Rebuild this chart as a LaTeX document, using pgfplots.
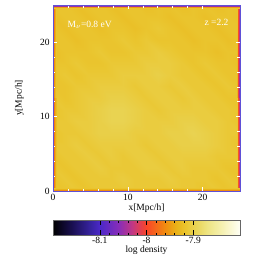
\documentclass[border=0pt]{standalone}
\usepackage{pgfplots}
\pgfplotsset{compat=1.18}
\usepackage{fontspec}
\setmainfont{Liberation Serif}
\definecolor{frameblue}{RGB}{95,80,215}
\begin{document}
\fontsize{9.5}{11}\selectfont
\begin{tikzpicture}
\begin{axis}[
 at={(0,0)}, anchor=south west,
 scale only axis, width=187pt, height=186pt,
 xmin=0, xmax=25, ymin=0, ymax=25,
 enlargelimits=false,
 axis on top,
 xtick={0,10,20}, ytick={0,10,20},
 minor x tick num=4, minor y tick num=4,
 tick align=inside,
 tick style={white, line width=0.5pt},
 major tick length=4pt, minor tick length=2.5pt,
 axis line style={draw=frameblue, line width=0.5pt},
 xlabel={x[Mpc/h]}, ylabel={y[Mpc/h]},
 ylabel style={at={(axis description cs:-0.18,0.5)}, anchor=center},
 xlabel style={at={(axis description cs:0.5,-0.09)}, anchor=center},
 /pgf/number format/assume math mode=true,
 colormap={dens}{rgb255(0)=(0,0,0) rgb255(40)=(25,15,80) rgb255(80)=(55,35,160) rgb255(100)=(75,40,200) rgb255(140)=(135,45,185) rgb255(170)=(195,55,130) rgb255(200)=(250,70,40) rgb255(240)=(240,140,15) rgb255(265)=(233,180,25) rgb255(285)=(234,198,48) rgb255(305)=(233,212,85) rgb255(330)=(238,228,130) rgb255(360)=(245,240,175) rgb255(400)=(255,255,245)},
 point meta min=-8.2, point meta max=-7.8,
 colorbar horizontal,
 colorbar style={
   at={(0,-0.156)}, anchor=north west,
   scale only axis, width=187pt, height=15pt,
   xtick={-8.1,-8,-7.9}, xticklabels={-8.1,-8,-7.9},
   minor x tick num=4,
   xtick pos=both, xticklabel pos=lower,
   tick align=inside,
   tick style={black, line width=0.4pt},
   major tick length=5pt, minor tick length=2.5pt,
   axis line style={draw=black!60, line width=0.6pt},
   xlabel={log density},
   xlabel style={at={(axis description cs:0.5,-1.0)}, anchor=center},
   xticklabel style={yshift=1pt},
 },
]
\addplot[surf, shader=interp, mesh/cols=17, point meta=explicit] coordinates {
(0,0)[-7.912] (1.5625,0)[-7.917] (3.125,0)[-7.912] (4.6875,0)[-7.917] (6.25,0)[-7.912] (7.8125,0)[-7.912] (9.375,0)[-7.912] (10.9375,0)[-7.912] (12.5,0)[-7.912] (14.0625,0)[-7.912] (15.625,0)[-7.912] (17.1875,0)[-7.912] (18.75,0)[-7.912] (20.3125,0)[-7.917] (21.875,0)[-7.912] (23.4375,0)[-7.917] (25,0)[-7.912]

(0,1.5625)[-7.917] (1.5625,1.5625)[-7.912] (3.125,1.5625)[-7.917] (4.6875,1.5625)[-7.912] (6.25,1.5625)[-7.912] (7.8125,1.5625)[-7.912] (9.375,1.5625)[-7.907] (10.9375,1.5625)[-7.912] (12.5,1.5625)[-7.912] (14.0625,1.5625)[-7.912] (15.625,1.5625)[-7.907] (17.1875,1.5625)[-7.912] (18.75,1.5625)[-7.912] (20.3125,1.5625)[-7.912] (21.875,1.5625)[-7.917] (23.4375,1.5625)[-7.912] (25,1.5625)[-7.917]

(0,3.125)[-7.912] (1.5625,3.125)[-7.917] (3.125,3.125)[-7.912] (4.6875,3.125)[-7.912] (6.25,3.125)[-7.907] (7.8125,3.125)[-7.912] (9.375,3.125)[-7.912] (10.9375,3.125)[-7.912] (12.5,3.125)[-7.907] (14.0625,3.125)[-7.907] (15.625,3.125)[-7.912] (17.1875,3.125)[-7.907] (18.75,3.125)[-7.912] (20.3125,3.125)[-7.912] (21.875,3.125)[-7.912] (23.4375,3.125)[-7.917] (25,3.125)[-7.917]

(0,4.6875)[-7.917] (1.5625,4.6875)[-7.912] (3.125,4.6875)[-7.912] (4.6875,4.6875)[-7.907] (6.25,4.6875)[-7.912] (7.8125,4.6875)[-7.907] (9.375,4.6875)[-7.912] (10.9375,4.6875)[-7.907] (12.5,4.6875)[-7.907] (14.0625,4.6875)[-7.912] (15.625,4.6875)[-7.907] (17.1875,4.6875)[-7.907] (18.75,4.6875)[-7.907] (20.3125,4.6875)[-7.907] (21.875,4.6875)[-7.912] (23.4375,4.6875)[-7.912] (25,4.6875)[-7.912]

(0,6.25)[-7.912] (1.5625,6.25)[-7.912] (3.125,6.25)[-7.907] (4.6875,6.25)[-7.912] (6.25,6.25)[-7.907] (7.8125,6.25)[-7.907] (9.375,6.25)[-7.907] (10.9375,6.25)[-7.907] (12.5,6.25)[-7.912] (14.0625,6.25)[-7.907] (15.625,6.25)[-7.907] (17.1875,6.25)[-7.902] (18.75,6.25)[-7.902] (20.3125,6.25)[-7.902] (21.875,6.25)[-7.907] (23.4375,6.25)[-7.912] (25,6.25)[-7.917]

(0,7.8125)[-7.917] (1.5625,7.8125)[-7.912] (3.125,7.8125)[-7.912] (4.6875,7.8125)[-7.907] (6.25,7.8125)[-7.902] (7.8125,7.8125)[-7.902] (9.375,7.8125)[-7.902] (10.9375,7.8125)[-7.907] (12.5,7.8125)[-7.907] (14.0625,7.8125)[-7.907] (15.625,7.8125)[-7.902] (17.1875,7.8125)[-7.902] (18.75,7.8125)[-7.897] (20.3125,7.8125)[-7.902] (21.875,7.8125)[-7.907] (23.4375,7.8125)[-7.912] (25,7.8125)[-7.912]

(0,9.375)[-7.912] (1.5625,9.375)[-7.912] (3.125,9.375)[-7.907] (4.6875,9.375)[-7.907] (6.25,9.375)[-7.902] (7.8125,9.375)[-7.897] (9.375,9.375)[-7.897] (10.9375,9.375)[-7.902] (12.5,9.375)[-7.907] (14.0625,9.375)[-7.907] (15.625,9.375)[-7.907] (17.1875,9.375)[-7.902] (18.75,9.375)[-7.902] (20.3125,9.375)[-7.907] (21.875,9.375)[-7.907] (23.4375,9.375)[-7.912] (25,9.375)[-7.917]

(0,10.9375)[-7.917] (1.5625,10.9375)[-7.912] (3.125,10.9375)[-7.912] (4.6875,10.9375)[-7.907] (6.25,10.9375)[-7.902] (7.8125,10.9375)[-7.897] (9.375,10.9375)[-7.897] (10.9375,10.9375)[-7.902] (12.5,10.9375)[-7.907] (14.0625,10.9375)[-7.912] (15.625,10.9375)[-7.907] (17.1875,10.9375)[-7.907] (18.75,10.9375)[-7.907] (20.3125,10.9375)[-7.907] (21.875,10.9375)[-7.912] (23.4375,10.9375)[-7.912] (25,10.9375)[-7.917]

(0,12.5)[-7.912] (1.5625,12.5)[-7.917] (3.125,12.5)[-7.912] (4.6875,12.5)[-7.907] (6.25,12.5)[-7.907] (7.8125,12.5)[-7.902] (9.375,12.5)[-7.902] (10.9375,12.5)[-7.907] (12.5,12.5)[-7.912] (14.0625,12.5)[-7.907] (15.625,12.5)[-7.907] (17.1875,12.5)[-7.912] (18.75,12.5)[-7.907] (20.3125,12.5)[-7.912] (21.875,12.5)[-7.912] (23.4375,12.5)[-7.917] (25,12.5)[-7.917]

(0,14.0625)[-7.917] (1.5625,14.0625)[-7.917] (3.125,14.0625)[-7.912] (4.6875,14.0625)[-7.912] (6.25,14.0625)[-7.907] (7.8125,14.0625)[-7.907] (9.375,14.0625)[-7.907] (10.9375,14.0625)[-7.912] (12.5,14.0625)[-7.907] (14.0625,14.0625)[-7.907] (15.625,14.0625)[-7.912] (17.1875,14.0625)[-7.907] (18.75,14.0625)[-7.912] (20.3125,14.0625)[-7.912] (21.875,14.0625)[-7.917] (23.4375,14.0625)[-7.912] (25,14.0625)[-7.917]

(0,15.625)[-7.917] (1.5625,15.625)[-7.912] (3.125,15.625)[-7.917] (4.6875,15.625)[-7.912] (6.25,15.625)[-7.912] (7.8125,15.625)[-7.912] (9.375,15.625)[-7.907] (10.9375,15.625)[-7.907] (12.5,15.625)[-7.907] (14.0625,15.625)[-7.902] (15.625,15.625)[-7.907] (17.1875,15.625)[-7.912] (18.75,15.625)[-7.912] (20.3125,15.625)[-7.917] (21.875,15.625)[-7.912] (23.4375,15.625)[-7.917] (25,15.625)[-7.917]

(0,17.1875)[-7.917] (1.5625,17.1875)[-7.917] (3.125,17.1875)[-7.912] (4.6875,17.1875)[-7.917] (6.25,17.1875)[-7.917] (7.8125,17.1875)[-7.912] (9.375,17.1875)[-7.912] (10.9375,17.1875)[-7.912] (12.5,17.1875)[-7.907] (14.0625,17.1875)[-7.907] (15.625,17.1875)[-7.907] (17.1875,17.1875)[-7.912] (18.75,17.1875)[-7.917] (20.3125,17.1875)[-7.912] (21.875,17.1875)[-7.917] (23.4375,17.1875)[-7.917] (25,17.1875)[-7.922]

(0,18.75)[-7.922] (1.5625,18.75)[-7.917] (3.125,18.75)[-7.917] (4.6875,18.75)[-7.917] (6.25,18.75)[-7.912] (7.8125,18.75)[-7.917] (9.375,18.75)[-7.917] (10.9375,18.75)[-7.912] (12.5,18.75)[-7.912] (14.0625,18.75)[-7.907] (15.625,18.75)[-7.912] (17.1875,18.75)[-7.917] (18.75,18.75)[-7.917] (20.3125,18.75)[-7.917] (21.875,18.75)[-7.922] (23.4375,18.75)[-7.917] (25,18.75)[-7.917]

(0,20.3125)[-7.917] (1.5625,20.3125)[-7.917] (3.125,20.3125)[-7.922] (4.6875,20.3125)[-7.917] (6.25,20.3125)[-7.917] (7.8125,20.3125)[-7.917] (9.375,20.3125)[-7.912] (10.9375,20.3125)[-7.917] (12.5,20.3125)[-7.912] (14.0625,20.3125)[-7.917] (15.625,20.3125)[-7.917] (17.1875,20.3125)[-7.917] (18.75,20.3125)[-7.922] (20.3125,20.3125)[-7.917] (21.875,20.3125)[-7.917] (23.4375,20.3125)[-7.922] (25,20.3125)[-7.917]

(0,21.875)[-7.917] (1.5625,21.875)[-7.922] (3.125,21.875)[-7.917] (4.6875,21.875)[-7.917] (6.25,21.875)[-7.922] (7.8125,21.875)[-7.917] (9.375,21.875)[-7.917] (10.9375,21.875)[-7.922] (12.5,21.875)[-7.917] (14.0625,21.875)[-7.912] (15.625,21.875)[-7.917] (17.1875,21.875)[-7.922] (18.75,21.875)[-7.917] (20.3125,21.875)[-7.917] (21.875,21.875)[-7.922] (23.4375,21.875)[-7.917] (25,21.875)[-7.917]

(0,23.4375)[-7.922] (1.5625,23.4375)[-7.917] (3.125,23.4375)[-7.917] (4.6875,23.4375)[-7.922] (6.25,23.4375)[-7.917] (7.8125,23.4375)[-7.917] (9.375,23.4375)[-7.922] (10.9375,23.4375)[-7.917] (12.5,23.4375)[-7.917] (14.0625,23.4375)[-7.917] (15.625,23.4375)[-7.922] (17.1875,23.4375)[-7.917] (18.75,23.4375)[-7.917] (20.3125,23.4375)[-7.922] (21.875,23.4375)[-7.917] (23.4375,23.4375)[-7.917] (25,23.4375)[-7.922]

(0,25)[-7.917] (1.5625,25)[-7.917] (3.125,25)[-7.922] (4.6875,25)[-7.917] (6.25,25)[-7.917] (7.8125,25)[-7.922] (9.375,25)[-7.917] (10.9375,25)[-7.917] (12.5,25)[-7.922] (14.0625,25)[-7.917] (15.625,25)[-7.917] (17.1875,25)[-7.922] (18.75,25)[-7.917] (20.3125,25)[-7.917] (21.875,25)[-7.922] (23.4375,25)[-7.917] (25,25)[-7.917]
};
% left edge
\addplot[surf, shader=interp, mesh/cols=5, point meta=explicit] coordinates {
(0,0)[-8.12] (0.1,0)[-8.03] (0.2,0)[-7.97] (0.32,0)[-7.94] (0.45,0)[-7.917]

(0,25)[-8.12] (0.1,25)[-8.03] (0.2,25)[-7.97] (0.32,25)[-7.94] (0.45,25)[-7.917]
};
% right edge
\addplot[surf, shader=interp, mesh/cols=5, point meta=explicit] coordinates {
(24.55,0)[-7.917] (24.68,0)[-7.95] (24.8,0)[-7.99] (24.9,0)[-8.03] (25,0)[-8.08]

(24.55,25)[-7.917] (24.68,25)[-7.95] (24.8,25)[-7.99] (24.9,25)[-8.03] (25,25)[-8.08]
};
% top edge
\addplot[surf, shader=interp, mesh/cols=2, point meta=explicit] coordinates {
(0,24.55)[-7.917] (25,24.55)[-7.917]

(0,24.68)[-7.95] (25,24.68)[-7.95]

(0,24.8)[-7.99] (25,24.8)[-7.99]

(0,24.9)[-8.05] (25,24.9)[-8.05]

(0,25)[-8.12] (25,25)[-8.12]
};
% bottom edge
\addplot[surf, shader=interp, mesh/cols=2, point meta=explicit] coordinates {
(0,0)[-8.09] (25,0)[-8.09]

(0,0.1)[-8.01] (25,0.1)[-8.01]

(0,0.2)[-7.96] (25,0.2)[-7.96]

(0,0.32)[-7.935] (25,0.32)[-7.935]

(0,0.45)[-7.917] (25,0.45)[-7.917]
};
\node[white, anchor=west] at (axis cs:1.5,22.3) {M$_\nu$=0.8 eV};
\node[white, anchor=east] at (axis cs:23.9,22.6) {z =2.2};
\end{axis}
\pgfresetboundingbox
\path[use as bounding box] (-53pt,-64pt) rectangle (202pt,191pt);
\end{tikzpicture}
\end{document}
